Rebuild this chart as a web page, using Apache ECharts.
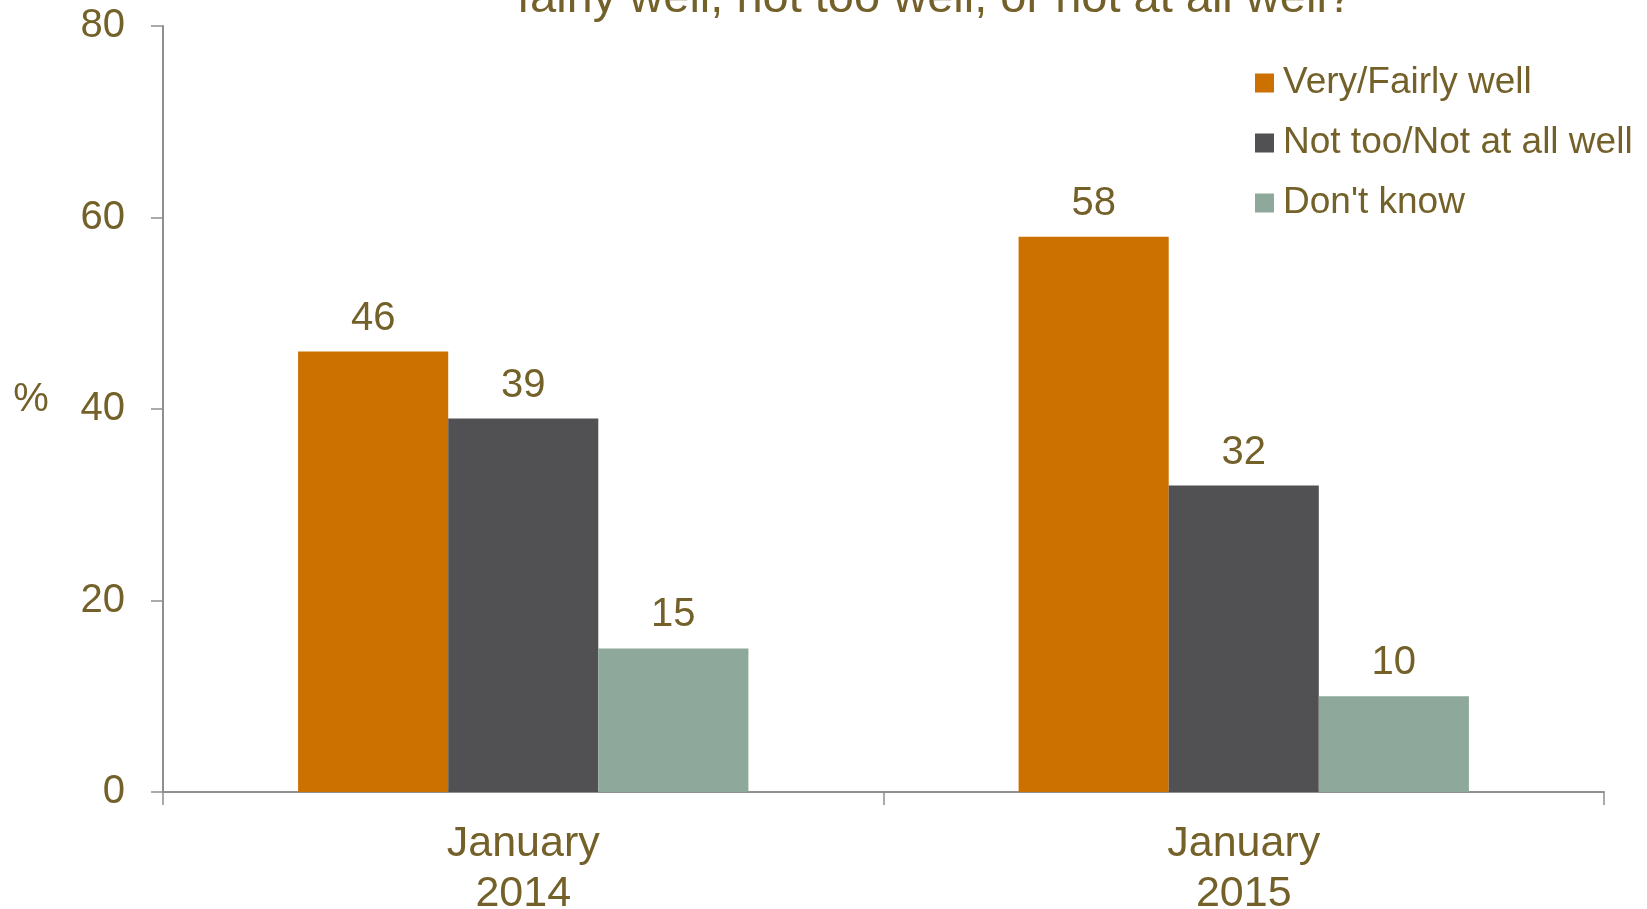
<!DOCTYPE html>
<html>
<head>
<meta charset="utf-8">
<script src="https://cdn.jsdelivr.net/npm/echarts@6/dist/echarts.min.js"></script>
<style>
html,body{margin:0;padding:0;background:#fff;}
#chart{width:1647px;height:909px;}
</style>
</head>
<body>
<div id="chart"></div>
<script>
var categories = ['January\n2014', 'January\n2015'];
var seriesNames = ['Very/Fairly well', 'Not too/Not at all well', "Don't know"];
var veryFairly = [46, 58];
var notTooNotAtAll = [39, 32];
var dontKnow = [15, 10];
var yTicks = [0, 20, 40, 60, 80];
var titleText = 'fairly well, not too well, or not at all well?';

var textColor = '#74612A';
var axisColor = '#8F8F8F';
var colors = ['#CC7000', '#515153', '#8EA99C'];
var font = 'Liberation Sans, Arial, sans-serif';

var chart = echarts.init(document.getElementById('chart'));
var dataSets = [veryFairly, notTooNotAtAll, dontKnow];

chart.setOption({
  animation: false,
  backgroundColor: '#ffffff',
  color: colors,
  textStyle: { fontFamily: font },
  grid: { left: 163, right: 43, top: 26, bottom: 117, containLabel: false, outerBoundsMode: 'none' },
  graphic: [
    {
      type: 'text',
      x: 935, y: -1,
      style: {
        text: titleText,
        align: 'center',
        verticalAlign: 'middle',
        font: '47px ' + font,
        fill: textColor
      }
    },
    {
      type: 'text',
      x: 31, y: 400,
      style: {
        text: '%',
        align: 'center',
        verticalAlign: 'middle',
        font: '40px ' + font,
        fill: textColor
      }
    }
  ],
  legend: {
    orient: 'vertical',
    left: 1255,
    top: 63,
    padding: 0,
    itemWidth: 19,
    itemHeight: 19,
    itemGap: 20,
    icon: 'rect',
    data: seriesNames,
    textStyle: {
      fontSize: 37,
      lineHeight: 40,
      color: textColor,
      fontFamily: font,
      padding: [0, 0, 0, 4]
    }
  },
  xAxis: {
    type: 'category',
    data: categories,
    axisLine: { show: true, lineStyle: { color: axisColor, width: 2 } },
    axisTick: { show: true, length: 13, lineStyle: { color: axisColor, width: 1.5 } },
    axisLabel: {
      fontSize: 43,
      lineHeight: 50,
      color: textColor,
      margin: 27,
      fontFamily: font
    }
  },
  yAxis: {
    type: 'value',
    min: yTicks[0],
    max: yTicks[yTicks.length - 1],
    interval: yTicks[1] - yTicks[0],
    splitLine: { show: false },
    axisLine: { show: true, lineStyle: { color: axisColor, width: 2 } },
    axisTick: { show: true, length: 12, lineStyle: { color: axisColor, width: 1.5 } },
    axisLabel: {
      fontSize: 40,
      color: textColor,
      margin: 38,
      fontFamily: font
    }
  },
  series: dataSets.map(function (d, i) {
    return {
      name: seriesNames[i],
      type: 'bar',
      data: d,
      barGap: '0%',
      barCategoryGap: '37.5%',
      itemStyle: { color: colors[i] },
      label: {
        show: true,
        position: 'top',
        distance: 13,
        fontSize: 40,
        lineHeight: 40,
        color: textColor,
        fontFamily: font
      }
    };
  })
});
</script>
</body>
</html>
